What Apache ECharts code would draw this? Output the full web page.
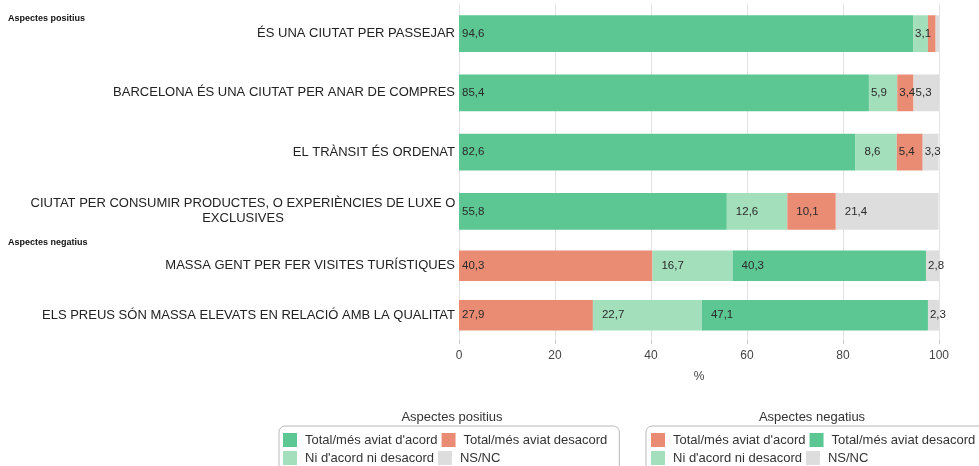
<!DOCTYPE html>
<html lang="ca">
<head>
    <meta charset="UTF-8">
    <title>Aspectes positius i negatius</title>
    <script src="https://cdn.jsdelivr.net/npm/echarts@6/dist/echarts.min.js"></script>
    <style>
        body { margin: 0; background: #fff; }
        #main { width: 979px; height: 466px; }
    </style>
</head>
<body>
<div id="main"></div>
<script>
    // categories
    var posCats = ['ÉS UNA CIUTAT PER PASSEJAR', 'BARCELONA ÉS UNA CIUTAT PER ANAR DE COMPRES', 'EL TRÀNSIT ÉS ORDENAT',
        'CIUTAT PER CONSUMIR PRODUCTES, O EXPERIÈNCIES DE LUXE O\nEXCLUSIVES'];
    var negCats = ['MASSA GENT PER FER VISITES TURÍSTIQUES', 'ELS PREUS SÓN MASSA ELEVATS EN RELACIÓ AMB LA QUALITAT'];

    // values (%)
    var posAcord = [94.6, 85.4, 82.6, 55.8];
    var posNi = [3.1, 5.9, 8.6, 12.6];
    var posDesacord = [1.6, 3.4, 5.4, 10.1];
    var posNsnc = [0.7, 5.3, 3.3, 21.4];

    var negAcord = [40.3, 27.9];
    var negNi = [16.7, 22.7];
    var negDesacord = [40.3, 47.1];
    var negNsnc = [2.8, 2.3];

    var xTicks = [0, 20, 40, 60, 80, 100];

    var GREEN = '#5cc792', LIGHT = '#a4dfbc', SALMON = '#ea8c74', GREY = '#dddddd';
    var ZW = '\u200b'; // keeps the negative legend names apart

    var myChart = echarts.init(document.getElementById('main'));

    // label offset: first segment sits close to the axis, narrow ones stay tight
    function items(arr, first) {
        return arr.map(function (v) {
            var d = first ? 3 : (v < 7 ? 2 : 9);
            return { value: v, label: { distance: d } };
        });
    }

    function bar(name, data, color, idx, first) {
        return {
            name: name,
            type: 'bar',
            stack: 'p' + idx,
            xAxisIndex: idx,
            yAxisIndex: idx,
            barCategoryGap: '38%',
            data: items(data, first),
            itemStyle: { color: color },
            label: {
                show: true,
                position: 'insideLeft',
                color: '#2a2a2a',
                fontSize: 11.5,
                fontFamily: 'Liberation Sans',
                formatter: function (p) {
                    if (p.value < 2) return '';
                    return p.value.toFixed(1).replace('.', ',');
                }
            },
            emphasis: { disabled: true }
        };
    }

    function yAx(cats, idx) {
        return {
            type: 'category',
            gridIndex: idx,
            inverse: true,
            data: cats,
            axisLine: { show: false },
            axisTick: { show: false },
            axisLabel: {
                margin: 4,
                color: '#222',
                fontSize: 13,
                fontFamily: 'Liberation Sans',
                formatter: function (v) {
                    return v.indexOf('\n') >= 0 ? '{c|' + v + '}' : v;
                },
                rich: { c: { width: 424, align: 'center', fontSize: 13, color: '#222', lineHeight: 15 } }
            }
        };
    }

    function xAx(idx, showLabels) {
        return {
            type: 'value',
            gridIndex: idx,
            min: xTicks[0],
            max: xTicks[xTicks.length - 1],
            interval: 20,
            axisLine: { show: false },
            axisTick: { show: showLabels, length: 4, lineStyle: { color: '#c8c8c8' } },
            axisLabel: { show: showLabels, color: '#444', fontSize: 12, fontFamily: 'Liberation Sans', margin: 10 },
            splitLine: { show: true, lineStyle: { color: '#e2e2e2' } },
            name: showLabels ? '%' : '',
            nameLocation: 'middle',
            nameGap: 31,
            nameTextStyle: { color: '#444', fontSize: 12, fontFamily: 'Liberation Sans' }
        };
    }

    var legendBase = {
        orient: 'horizontal',
        top: 426,
        width: 330,
        itemWidth: 14,
        itemHeight: 14,
        itemGap: 4,
        icon: 'rect',
        borderColor: '#b8b8b8',
        borderWidth: 1,
        borderRadius: 6,
        selectedMode: false,
        textStyle: { width: 138, padding: [0, 0, 0, 3], color: '#333', fontSize: 13, fontFamily: 'Liberation Sans' }
    };

    var option = {
        animation: false,
        grid: [
            { left: 459, right: 40, top: 4, height: 237 },
            { left: 459, right: 40, top: 241, height: 99 }
        ],
        xAxis: [xAx(0, false), xAx(1, true)],
        yAxis: [yAx(posCats, 0), yAx(negCats, 1)],
        legend: [
            Object.assign({}, legendBase, {
                left: 279,
                padding: [7, 12, 12, 4],
                data: ["Total/més aviat d'acord", 'Total/més aviat desacord', "Ni d'acord ni desacord", 'NS/NC']
            }),
            Object.assign({}, legendBase, {
                left: 646,
                padding: [7, 20, 12, 5],
                formatter: function (n) { return n.replace(ZW, ''); },
                data: ["Total/més aviat d'acord" + ZW, 'Total/més aviat desacord' + ZW, "Ni d'acord ni desacord" + ZW, 'NS/NC' + ZW]
            })
        ],
        graphic: [
            { type: 'text', left: 8, top: 14, style: { text: 'Aspectes positius', font: 'bold 9px Liberation Sans', fill: '#111' } },
            { type: 'text', left: 8, top: 238, style: { text: 'Aspectes negatius', font: 'bold 9px Liberation Sans', fill: '#111' } },
            { type: 'text', x: 452, y: 411, style: { text: 'Aspectes positius', font: '13px Liberation Sans', fill: '#333', align: 'center' } },
            { type: 'text', x: 812, y: 411, style: { text: 'Aspectes negatius', font: '13px Liberation Sans', fill: '#333', align: 'center' } }
        ],
        series: [
            bar("Total/més aviat d'acord", posAcord, GREEN, 0, true),
            bar("Ni d'acord ni desacord", posNi, LIGHT, 0),
            bar('Total/més aviat desacord', posDesacord, SALMON, 0),
            bar('NS/NC', posNsnc, GREY, 0),
            bar("Total/més aviat d'acord" + ZW, negAcord, SALMON, 1, true),
            bar("Ni d'acord ni desacord" + ZW, negNi, LIGHT, 1),
            bar('Total/més aviat desacord' + ZW, negDesacord, GREEN, 1),
            bar('NS/NC' + ZW, negNsnc, GREY, 1)
        ]
    };

    myChart.setOption(option);
</script>
</body>
</html>
